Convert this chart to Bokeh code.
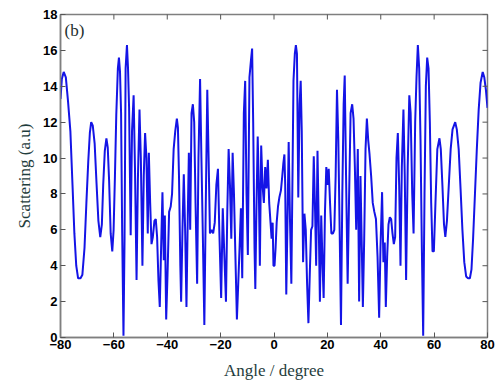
from bokeh.plotting import figure
from bokeh.models import Range1d, FixedTicker, Label
from bokeh.embed import file_html
from bokeh.resources import INLINE
import math

# Angle (degree) and scattering (a.u.) values
angle_left = [
    -80.0, -79.5, -78.8, -78.0, -77.2, -76.3, -75.5, -74.8, -74.1, -73.4,
    -72.5, -71.8, -71.0, -70.3, -69.6, -69.0, -68.5, -67.9, -67.2, -66.5,
    -65.8, -65.1, -64.5, -64.0, -63.4, -62.8, -62.3, -61.8, -61.2, -60.6,
    -60.1, -59.6, -59.1, -58.5, -58.1, -57.7, -57.3, -56.9, -56.4, -56.0,
    -55.6, -55.1, -54.7, -54.3, -53.7, -53.2, -52.6, -52.1, -51.5, -51.0,
    -50.4, -49.9, -49.3, -48.8, -48.3, -47.8, -47.3, -46.9, -46.4, -45.9,
    -45.4, -44.8, -44.3, -43.8, -43.3, -42.8, -42.3, -41.8, -41.3, -40.9,
    -40.4, -39.9, -39.3, -38.7, -38.2, -37.6, -37.0, -36.4, -36.0, -35.6,
    -35.1, -34.8, -34.3, -33.8, -33.3, -32.8, -32.3, -31.9, -31.4, -30.9,
    -30.4, -29.9, -29.4, -28.8, -28.3, -27.7, -27.2, -26.7, -26.1, -25.6,
    -25.0, -24.5, -24.0, -23.4, -22.8, -22.2, -21.6, -21.0, -20.5, -19.8,
    -19.2, -18.7, -18.0, -17.5, -17.0, -16.5, -16.0, -15.5, -15.0, -14.5,
    -13.9, -13.4, -12.9, -12.4, -11.9, -11.3, -10.8, -10.3, -9.8, -9.2,
    -8.6, -8.2, -7.8, -7.3, -7.0, -6.6, -6.1, -5.7, -5.3, -4.8,
    -4.3, -3.8, -3.3, -2.8, -2.3, -1.8, -1.3, -0.9, -0.5, -0.2,
]
scatter_left = [
    13.3, 14.4, 14.8, 14.5, 13.2, 11.5, 8.5, 5.8, 4.0, 3.3,
    3.3, 3.5, 5.0, 7.5, 9.8, 11.4, 12.0, 11.8, 10.8, 8.6,
    6.5, 5.6, 6.3, 8.5, 10.4, 11.1, 10.6, 8.8, 5.8, 4.8,
    6.0, 9.0, 12.4, 15.0, 15.6, 14.8, 12.5, 6.0, 0.1, 5.5,
    15.0, 16.3, 15.0, 12.8, 5.7, 11.5, 13.5, 9.5, 3.2, 8.8,
    12.7, 10.0, 4.0, 9.0, 11.4, 10.0, 5.8, 10.3, 7.5, 5.2,
    5.6, 6.5, 6.6, 5.6, 3.2, 1.7, 5.0, 8.1, 4.3, 6.8,
    1.0, 3.5, 7.0, 7.3, 8.0, 10.5, 11.5, 12.2, 11.7, 9.0,
    4.0, 2.0, 6.0, 9.1, 6.0, 1.7, 6.8, 10.3, 6.0, 12.5,
    13.0, 12.0, 7.5, 3.0, 10.0, 14.4, 10.0, 6.0, 0.7, 7.0,
    13.8, 10.0, 5.8, 6.0, 5.8, 6.4, 8.5, 9.4, 6.0, 2.2,
    7.2, 5.0, 2.0, 7.0, 10.5, 8.5, 5.5, 10.3, 8.0, 4.8,
    1.0, 3.0, 5.0, 7.2, 3.3, 12.5, 14.3, 8.0, 4.6, 14.5,
    15.5, 16.1, 12.0, 5.0, 2.7, 7.0, 11.2, 8.5, 4.0, 10.7,
    8.5, 7.5, 9.5, 8.3, 9.9, 7.5, 6.4, 5.5, 6.4, 4.0,
]
angle_right = [
    0.2, 0.6, 1.0, 1.5, 2.0, 2.6, 3.1, 3.5, 3.9, 4.2,
    4.6, 5.0, 5.5, 6.0, 6.5, 7.0, 7.3, 7.8, 8.2, 8.6,
    9.1, 9.6, 10.0, 10.4, 10.9, 11.4, 11.9, 12.4, 12.9, 13.4,
    13.9, 14.4, 14.9, 15.4, 15.8, 16.3, 16.8, 17.2, 17.7, 18.2,
    18.6, 19.1, 19.6, 20.1, 20.5, 21.0, 21.5, 22.1, 22.6, 23.1,
    23.6, 24.1, 24.6, 25.1, 25.6, 26.1, 26.5, 27.0, 27.6, 28.1,
    28.7, 29.3, 29.8, 30.3, 30.8, 31.4, 31.9, 32.4, 32.9, 33.3,
    33.8, 34.3, 34.8, 35.3, 35.8, 36.4, 37.0, 37.6, 38.2, 38.8,
    39.4, 39.9, 40.5, 41.0, 41.5, 41.9, 42.4, 42.9, 43.4, 43.9,
    44.4, 44.9, 45.4, 45.9, 46.4, 46.9, 47.4, 47.9, 48.5, 49.0,
    49.5, 50.1, 50.7, 51.2, 51.8, 52.3, 52.9, 53.4, 53.9, 54.4,
    54.9, 55.4, 55.9, 56.4, 56.9, 57.4, 57.9, 58.4, 58.9, 59.4,
    59.9, 60.5, 61.2, 62.0, 62.5, 63.1, 63.7, 64.2, 64.8, 65.5,
    66.2, 66.9, 67.9, 68.5, 69.2, 69.9, 70.6, 71.3, 72.0, 72.7,
    73.4, 74.0, 74.6, 75.3, 76.0, 76.7, 77.4, 78.2, 78.8, 79.4,
    80.0,
]
scatter_right = [
    4.0, 5.0, 6.4, 7.3, 7.8, 8.2, 9.0, 9.7, 10.2, 8.5,
    2.4, 6.0, 10.9, 6.5, 3.0, 10.0, 14.3, 15.8, 16.3, 15.8,
    7.8, 13.0, 14.3, 11.5, 4.2, 6.9, 6.0, 3.0, 0.8, 3.5,
    6.0, 6.2, 10.1, 7.0, 4.0, 10.4, 6.0, 2.0, 6.8, 4.0,
    2.2, 7.0, 9.5, 8.5, 9.4, 7.5, 5.8, 5.8, 6.0, 9.0,
    13.8, 11.0, 6.0, 0.7, 8.0, 13.0, 14.6, 9.0, 3.0, 7.5,
    12.5, 13.0, 12.2, 9.5, 6.0, 10.5, 2.0, 9.0, 5.0, 1.7,
    5.5, 10.5, 12.2, 11.0, 10.2, 9.0, 7.5, 7.0, 6.6, 4.5,
    1.1, 5.0, 8.1, 4.2, 5.3, 1.7, 4.5, 6.3, 6.7, 6.6,
    5.8, 5.2, 5.6, 10.0, 11.4, 8.5, 4.0, 9.5, 12.7, 9.0,
    3.2, 9.5, 13.5, 12.5, 8.0, 5.8, 12.0, 14.5, 16.3, 15.0,
    11.0, 5.0, 0.1, 8.0, 14.0, 15.6, 15.0, 12.0, 7.5, 4.8,
    4.8, 7.5, 10.5, 11.1, 10.5, 8.5, 6.3, 5.6, 6.5, 8.5,
    10.5, 11.6, 12.0, 11.6, 10.5, 8.3, 6.0, 4.2, 3.4, 3.3,
    3.3, 3.8, 5.5, 8.0, 10.5, 12.7, 14.2, 14.8, 14.5, 13.8,
    12.8,
]
angle = angle_left + angle_right
scattering = scatter_left + scatter_right

x_ticks = [-80, -60, -40, -20, 0, 20, 40, 60, 80]
y_ticks = [0, 2, 4, 6, 8, 10, 12, 14, 16, 18]
x_min, x_max = -80, 80
y_min, y_max = 0, 18

p = figure(width=497, height=387, output_backend="svg", toolbar_location=None,
           x_range=Range1d(x_min, x_max), y_range=Range1d(y_min, y_max),
           min_border_left=60, min_border_right=10, min_border_top=14,
           min_border_bottom=50)
p.grid.visible = False
p.background_fill_color = "white"
p.border_fill_color = "white"
p.outline_line_color = "#7f7f7f"
p.outline_line_width = 1.5

p.line(angle, scattering, line_color="#1414e6", line_width=2)

# inward tick marks on the top and right frame edges (clipped to the frame)
p.scatter(x=x_ticks, y=[y_max] * len(x_ticks), marker="dash", angle=math.pi / 2,
          size=10, line_color="#555555", line_width=1)
p.scatter(x=[x_max] * len(y_ticks), y=y_ticks, marker="dash", angle=0,
          size=10, line_color="#555555", line_width=1)

label_font = "Liberation Serif"
for ax in [p.xaxis[0], p.yaxis[0]]:
    ax.major_tick_in = 5
    ax.major_tick_out = 0
    ax.minor_tick_in = 0
    ax.minor_tick_out = 0
    ax.axis_line_color = "#7f7f7f"
    ax.axis_line_width = 1.5
    ax.major_tick_line_color = "#555555"
    ax.major_label_text_font = "Liberation Sans"
    ax.major_label_text_font_style = "bold"
    ax.major_label_text_font_size = "13px"
    ax.major_label_text_color = "black"
    ax.axis_label_text_font = label_font
    ax.axis_label_text_font_style = "normal"
    ax.axis_label_text_font_size = "17px"
    ax.axis_label_text_color = "#1f3d3d"

p.xaxis[0].ticker = FixedTicker(ticks=x_ticks)
p.yaxis[0].ticker = FixedTicker(ticks=y_ticks)
p.xaxis[0].axis_label = "Angle / degree"
p.yaxis[0].axis_label = "Scattering (a.u)"
p.xaxis[0].major_label_standoff = 2
p.yaxis[0].major_label_standoff = 3
p.xaxis[0].axis_label_standoff = 9
p.yaxis[0].axis_label_standoff = 6

p.add_layout(Label(x=-78.5, y=16.6, text="(b)", text_font=label_font,
                   text_font_size="17px", text_color="#1f2f2f"))

open("out.html", "w").write(file_html(p, INLINE))
